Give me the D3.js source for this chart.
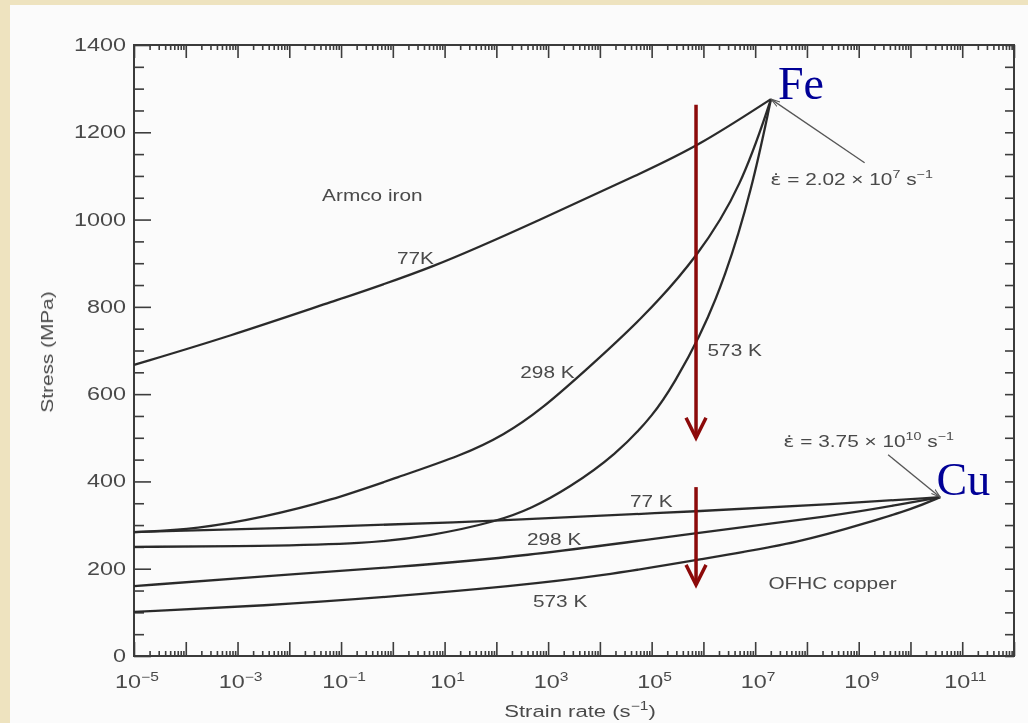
<!DOCTYPE html>
<html>
<head>
<meta charset="utf-8">
<script src="https://cdn.jsdelivr.net/npm/d3@7"></script>
<style>
  html, body { margin: 0; padding: 0; background: #eee3bf; }
  svg { display: block; }
  text { font-family: "Liberation Sans", Arial, sans-serif; fill: #4a4a4a; }
</style>
</head>
<body>
<svg id="chart" width="1028" height="723"></svg>
<script>
// Armco iron, strain rate (1/s) and stress (MPa)
var fe77Rate = [1e-5, 7.2e-4, 0.063, 5.5, 740, 6.5e4, 8.1e5, 2.02e7];
var fe77Stress = [667, 733, 811, 887, 1001, 1107, 1169, 1276];
var fe298Rate = [1e-5, 1.7e-4, 3.2e-3, 0.063, 1.26, 22, 140, 740, 5.0e3, 6.5e4, 8.1e5, 5.5e6, 2.02e7];
var fe298Stress = [284, 291, 318, 356, 410, 460, 506, 565, 652, 772, 917, 1077, 1276];
var fe573Rate = [1e-5, 3.2e-3, 0.28, 5.5, 107, 470, 2.5e3, 2.0e4, 1.15e5, 2.8e5, 8.1e5, 2.6e6, 8.7e6, 2.02e7];
var fe573Stress = [250, 252, 257, 275, 309, 338, 385, 460, 555, 628, 726, 864, 1070, 1276];

// OFHC copper
var cu77Rate = [1e-5, 0.063, 24, 470, 9.3e5, 3.5e8, 3.75e10];
var cu77Stress = [284, 296, 307, 314, 332, 348, 364];
var cu298Rate = [1e-5, 3.2e-3, 1.26, 250, 9.3e5, 3.5e8, 6.9e9, 3.75e10];
var cu298Stress = [160, 183, 204, 226, 284, 321, 348, 364];
var cu573Rate = [1e-5, 3.2e-3, 1.26, 200, 1.07e4, 9.3e5, 8.1e7, 1.6e9, 1.1e10, 3.75e10];
var cu573Stress = [101, 115, 137, 160, 183, 222, 261, 307, 337, 364];

var xTickExponents = [-5, -3, -1, 1, 3, 5, 7, 9, 11];
var yTickLabels = [0, 200, 400, 600, 800, 1000, 1200, 1400];

var feLimitRate = 2.02e7, feLimitStress = 1276;
var cuLimitRate = 3.75e10, cuLimitStress = 364;

// red arrows drawn over the figure (rate, stress from, stress to)
var arrowRate = 7.2e5;
var arrowFrom = [1263, 387];
var arrowTo = [500, 163];

var svg = d3.select('#chart');

var x = d3.scaleLog()
  .domain([1e-5, 1e12])
  .range([134, 1014]);

var y = d3.scaleLinear()
  .domain([0, 1400])
  .range([656, 45]);

var defs = svg.append('defs');
defs.append('filter').attr('id', 'scan')
  .append('feGaussianBlur').attr('stdDeviation', 0.55);
defs.append('marker')
  .attr('id', 'tip')
  .attr('viewBox', '0 0 10 10')
  .attr('refX', 10).attr('refY', 5)
  .attr('markerWidth', 7).attr('markerHeight', 7)
  .attr('orient', 'auto')
  .append('path')
  .attr('d', 'M0,2 L10,5 L0,8')
  .attr('fill', 'none')
  .attr('stroke', '#555')
  .attr('stroke-width', 1.2);

// page
svg.append('rect')
  .attr('x', 10).attr('y', 5)
  .attr('width', 1018).attr('height', 718)
  .attr('fill', '#fbfbfb');

var scan = svg.append('g').attr('filter', 'url(#scan)');

// axes: ticks only, frame drawn separately
var allRates = x.ticks(20);
var decadeRates = allRates.filter(function (d) { return Math.abs(Math.log10(d) % 1) < 1e-9; });
var minorRates = allRates.filter(function (d) { return decadeRates.indexOf(d) < 0; });
var yMinor = y.ticks(28).filter(function (d) { return yTickLabels.indexOf(d) < 0; });

function tickAxis(axis, transform) {
  var g = scan.append('g')
    .attr('transform', transform)
    .call(axis.tickFormat(''));
  g.select('.domain').remove();
  g.selectAll('line').attr('stroke', '#3c3c3c').attr('stroke-width', 1.6);
  return g;
}

tickAxis(d3.axisBottom(x).tickValues(decadeRates).tickSize(-14), 'translate(0,' + y(0) + ')');
tickAxis(d3.axisBottom(x).tickValues(minorRates).tickSize(-5), 'translate(0,' + y(0) + ')');
tickAxis(d3.axisTop(x).tickValues(decadeRates).tickSize(-13), 'translate(0,' + y(1400) + ')');
tickAxis(d3.axisTop(x).tickValues(minorRates).tickSize(-5), 'translate(0,' + y(1400) + ')');
tickAxis(d3.axisLeft(y).tickValues(yTickLabels).tickSize(-17), 'translate(' + x(1e-5) + ',0)');
tickAxis(d3.axisLeft(y).tickValues(yMinor).tickSize(-10), 'translate(' + x(1e-5) + ',0)');
tickAxis(d3.axisRight(y).tickValues(y.ticks(28)).tickSize(-9), 'translate(' + x(1e12) + ',0)');

scan.append('rect')
  .attr('x', x(1e-5)).attr('y', y(1400))
  .attr('width', x(1e12) - x(1e-5))
  .attr('height', y(0) - y(1400))
  .attr('fill', 'none')
  .attr('stroke', '#3a3a3a')
  .attr('stroke-width', 2);

// text helper: the scanned lettering is stretched sideways
function label(px, py, txt, size, anchor, rotate) {
  return scan.append('text')
    .attr('transform', 'translate(' + px + ',' + py + ')' + (rotate ? ' rotate(' + rotate + ')' : '') + ' scale(1.3,1)')
    .attr('text-anchor', anchor || 'start')
    .style('font-size', size + 'px')
    .text(txt);
}

function sup(t, txt, size) {
  t.append('tspan').attr('dy', -7).style('font-size', size + 'px').text(txt);
}

yTickLabels.forEach(function (v) {
  label(126, y(v) + 6, v, 18, 'end');
});

xTickExponents.forEach(function (e) {
  var t = label(x(Math.pow(10, e)) + 3, 688, '10', 18, 'middle');
  sup(t, e < 0 ? '\u2212' + (-e) : e, 12);
});

label(53, 352, 'Stress (MPa)', 16, 'middle', -90);
var xt = label(580, 717, 'Strain rate (s', 17, 'middle');
sup(xt, '\u22121', 12);
xt.append('tspan').attr('dy', 7).text(')');

// curves
var line = d3.line()
  .x(function (d) { return x(d[0]); })
  .y(function (d) { return y(d[1]); })
  .curve(d3.curveBasis);

var series = [
  [fe77Rate, fe77Stress], [fe298Rate, fe298Stress], [fe573Rate, fe573Stress],
  [cu77Rate, cu77Stress], [cu298Rate, cu298Stress], [cu573Rate, cu573Stress]
];

scan.selectAll('.curve')
  .data(series)
  .enter().append('path')
  .attr('class', 'curve')
  .attr('d', function (s) { return line(d3.zip(s[0], s[1])); })
  .attr('fill', 'none')
  .attr('stroke', '#2c2c2c')
  .attr('stroke-width', 2.3);

// curve labels
label(x(0.043), y(1043), 'Armco iron', 16);
label(x(1.2), y(898), '77K', 16);
label(x(290), y(637), '298 K', 16);
label(x(1.2e6), y(687), '573 K', 16);
label(x(3.8e4), y(341), '77 K', 16);
label(x(390), y(254), '298 K', 16);
label(x(510), y(112), '573 K', 16);
label(x(1.8e7), y(154), 'OFHC copper', 16);

function rateLabel(rate, stress, mantissa, exponent) {
  var t = label(x(rate), y(stress), '', 16);
  t.append('tspan').style('font-family', '"DejaVu Sans", sans-serif').text('\u03b5\u0307');
  t.append('tspan').text(' = ' + mantissa + ' \u00d7 10');
  sup(t, exponent, 11);
  t.append('tspan').attr('dy', 7).text(' s');
  sup(t, '\u22121', 11);
}

rateLabel(1.95e7, 1079, '2.02', '7');
rateLabel(3.5e7, 479, '3.75', '10');

// pointers to the limiting strain rates
scan.append('line')
  .attr('x1', x(1.3e9)).attr('y1', y(1130))
  .attr('x2', x(feLimitRate)).attr('y2', y(feLimitStress))
  .attr('stroke', '#555').attr('stroke-width', 1.3)
  .attr('marker-end', 'url(#tip)');

scan.append('line')
  .attr('x1', x(3.7e9)).attr('y1', y(461))
  .attr('x2', x(cuLimitRate)).attr('y2', y(cuLimitStress))
  .attr('stroke', '#555').attr('stroke-width', 1.3)
  .attr('marker-end', 'url(#tip)');

// overlay: element names and red arrows
svg.append('text')
  .attr('x', x(2.75e7)).attr('y', y(1276))
  .style('font-family', '"Liberation Serif", "Times New Roman", serif')
  .style('font-size', '46px')
  .style('fill', '#000096')
  .text('Fe');

svg.append('text')
  .attr('x', x(3.2e10)).attr('y', y(369))
  .style('font-family', '"Liberation Serif", "Times New Roman", serif')
  .style('font-size', '46px')
  .style('fill', '#000096')
  .text('Cu');

var arrows = svg.selectAll('.arrow')
  .data(d3.zip(arrowFrom, arrowTo))
  .enter().append('g')
  .attr('class', 'arrow');

arrows.append('line')
  .attr('x1', x(arrowRate)).attr('x2', x(arrowRate))
  .attr('y1', function (d) { return y(d[0]); })
  .attr('y2', function (d) { return y(d[1]); })
  .attr('stroke', '#8c0a0a')
  .attr('stroke-width', 3.5);

arrows.append('path')
  .attr('d', function (d) {
    var px = x(arrowRate), py = y(d[1]);
    return 'M' + (px - 10) + ',' + (py - 20) + 'L' + px + ',' + py + 'L' + (px + 10) + ',' + (py - 20);
  })
  .attr('fill', 'none')
  .attr('stroke', '#8c0a0a')
  .attr('stroke-width', 3.5);
</script>
</body>
</html>
